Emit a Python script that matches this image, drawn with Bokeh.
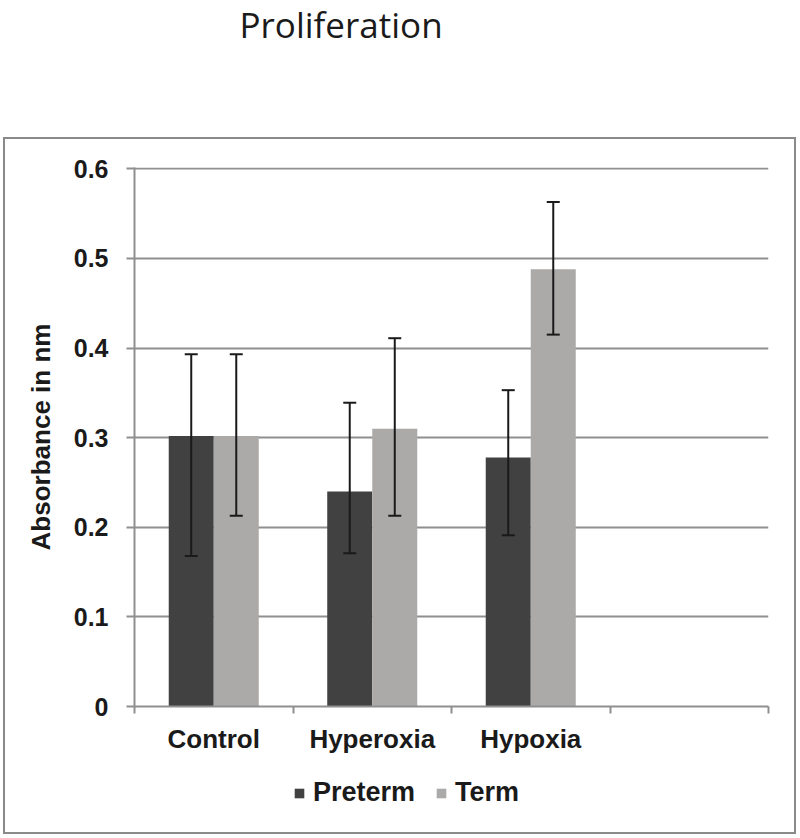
from bokeh.plotting import figure
from bokeh.layouts import column
from bokeh.models import (ColumnDataSource, Range1d, FixedTicker, NumeralTickFormatter,
                          Whisker, TeeHead, Legend, LegendItem, Label, InlineStyleSheet)
from bokeh.transform import dodge
from bokeh.embed import file_html
from bokeh.resources import INLINE

# ---- data ----
title_text = "Proliferation"
y_title = "Absorbance in nm"
categories = ["Control", "Hyperoxia", "Hypoxia"]
series = ["Preterm", "Term"]
n_slots = 4
preterm = [0.302, 0.240, 0.278]
term = [0.302, 0.310, 0.488]
preterm_lower = [0.168, 0.171, 0.191]
preterm_upper = [0.393, 0.339, 0.353]
term_lower = [0.213, 0.213, 0.415]
term_upper = [0.393, 0.411, 0.563]
y_ticks = [0, 0.1, 0.2, 0.3, 0.4, 0.5, 0.6]

centers = [i + 0.5 for i in range(len(categories))]
src = ColumnDataSource(dict(
    x=centers, preterm=preterm, term=term,
    pl=preterm_lower, pu=preterm_upper, tl=term_lower, tu=term_upper,
))

GRID = "#8f8f8f"
DARK = "#414141"
LIGHT = "#aca9a9"
INK = "#1a1a1a"
FONT = "Liberation Sans"
W = 800
FRAME_L = 134


def bare(height):
    f = figure(width=W, height=height, output_backend="svg", toolbar_location=None,
               x_range=Range1d(0, 1), y_range=Range1d(0, 1),
               x_axis_type=None, y_axis_type=None, min_border=0)
    f.title.visible = False
    f.outline_line_color = None
    f.xgrid.grid_line_color = None
    f.ygrid.grid_line_color = None
    return f


# ---- title strip ----
TOP_H = 60
pt = bare(TOP_H)
pt.add_layout(Label(x=239 - FRAME_L, y=36, x_units="screen", y_units="screen",
                    text=title_text, text_font="Open Sans", text_font_size="35px",
                    text_color=INK, text_baseline="alphabetic"))

# ---- chart ----
CH_H = 710
p = figure(width=W, height=CH_H, output_backend="svg", toolbar_location=None,
           x_range=Range1d(0, n_slots), y_range=Range1d(0, 0.6015),
           min_border_left=FRAME_L, min_border_right=32,
           min_border_top=168 - TOP_H - 1, min_border_bottom=TOP_H + CH_H - 706)
p.title.visible = False
p.outline_line_color = None

bw = 0.284
r1 = p.vbar(x=dodge("x", -bw / 2), top="preterm", width=bw, source=src,
            fill_color=DARK, line_color=None)
r2 = p.vbar(x=dodge("x", bw / 2), top="term", width=bw, source=src,
            fill_color=LIGHT, line_color=None)

for col_lo, col_hi, off in (("pl", "pu", -bw / 2), ("tl", "tu", bw / 2)):
    p.add_layout(Whisker(base=dodge("x", off), lower=col_lo, upper=col_hi, source=src,
                         line_color=INK, line_width=2, level="overlay",
                         upper_head=TeeHead(size=13, line_color=INK, line_width=2),
                         lower_head=TeeHead(size=13, line_color=INK, line_width=2)))

p.xaxis.ticker = FixedTicker(ticks=centers, minor_ticks=list(range(n_slots + 1)))
p.xaxis.major_label_overrides = {c: name for c, name in zip(centers, categories)}
p.xaxis.major_tick_out = 0
p.xaxis.major_tick_in = 0
p.xaxis.minor_tick_out = 7
p.xaxis.minor_tick_in = 0
p.xaxis.minor_tick_line_color = GRID
p.xaxis.minor_tick_line_width = 2
p.xaxis.axis_line_color = GRID
p.xaxis.axis_line_width = 2
p.xaxis.major_label_text_font = FONT
p.xaxis.major_label_text_font_style = "bold"
p.xaxis.major_label_text_font_size = "26px"
p.xaxis.major_label_text_color = INK
p.xaxis.major_label_standoff = 10

p.yaxis.ticker = FixedTicker(ticks=y_ticks, minor_ticks=[])
p.yaxis.formatter = NumeralTickFormatter(format="0.[0]")
p.yaxis.major_tick_out = 8
p.yaxis.major_tick_in = 0
p.yaxis.major_tick_line_color = GRID
p.yaxis.major_tick_line_width = 2
p.yaxis.axis_line_color = GRID
p.yaxis.axis_line_width = 2
p.yaxis.major_label_text_font = FONT
p.yaxis.major_label_text_font_style = "bold"
p.yaxis.major_label_text_font_size = "25px"
p.yaxis.major_label_text_color = INK
p.yaxis.major_label_standoff = 18
p.yaxis.axis_label = y_title
p.yaxis.axis_label_text_font = FONT
p.yaxis.axis_label_text_font_style = "bold"
p.yaxis.axis_label_text_font_size = "26px"
p.yaxis.axis_label_text_color = INK
p.yaxis.axis_label_standoff = 15

p.xgrid.grid_line_color = None
p.ygrid.grid_line_color = GRID
p.ygrid.grid_line_width = 2

# ---- legend strip ----
LG_H = 838 - TOP_H - CH_H
pl_ = bare(LG_H)
proxy = ColumnDataSource(dict(x=[0.0], top=[0.0]))
g1 = pl_.vbar(x="x", top="top", width=0, source=proxy, fill_color=DARK, line_color=None)
g2 = pl_.vbar(x="x", top="top", width=0, source=proxy, fill_color=LIGHT, line_color=None)
legend = Legend(items=[LegendItem(label=series[0], renderers=[g1]),
                       LegendItem(label=series[1], renderers=[g2])],
                orientation="horizontal", location=(293 - FRAME_L, LG_H - 38),
                glyph_width=12, glyph_height=12, label_standoff=8, spacing=20,
                padding=0, margin=0, border_line_color=None,
                background_fill_alpha=0,
                label_text_font=FONT, label_text_font_style="bold",
                label_text_font_size="27px", label_text_color=INK)
pl_.add_layout(legend, "center")

box_css = InlineStyleSheet(css="""
:host { position: relative; }
:host::after {
  content: ""; position: absolute; left: 3px; top: 137px;
  width: 793px; height: 697px; border: 2px solid #8a8a8a;
  box-sizing: border-box; pointer-events: none;
}
""")
layout = column(pt, p, pl_, spacing=0, stylesheets=[box_css])

open("out.html", "w").write(file_html(layout, INLINE))
